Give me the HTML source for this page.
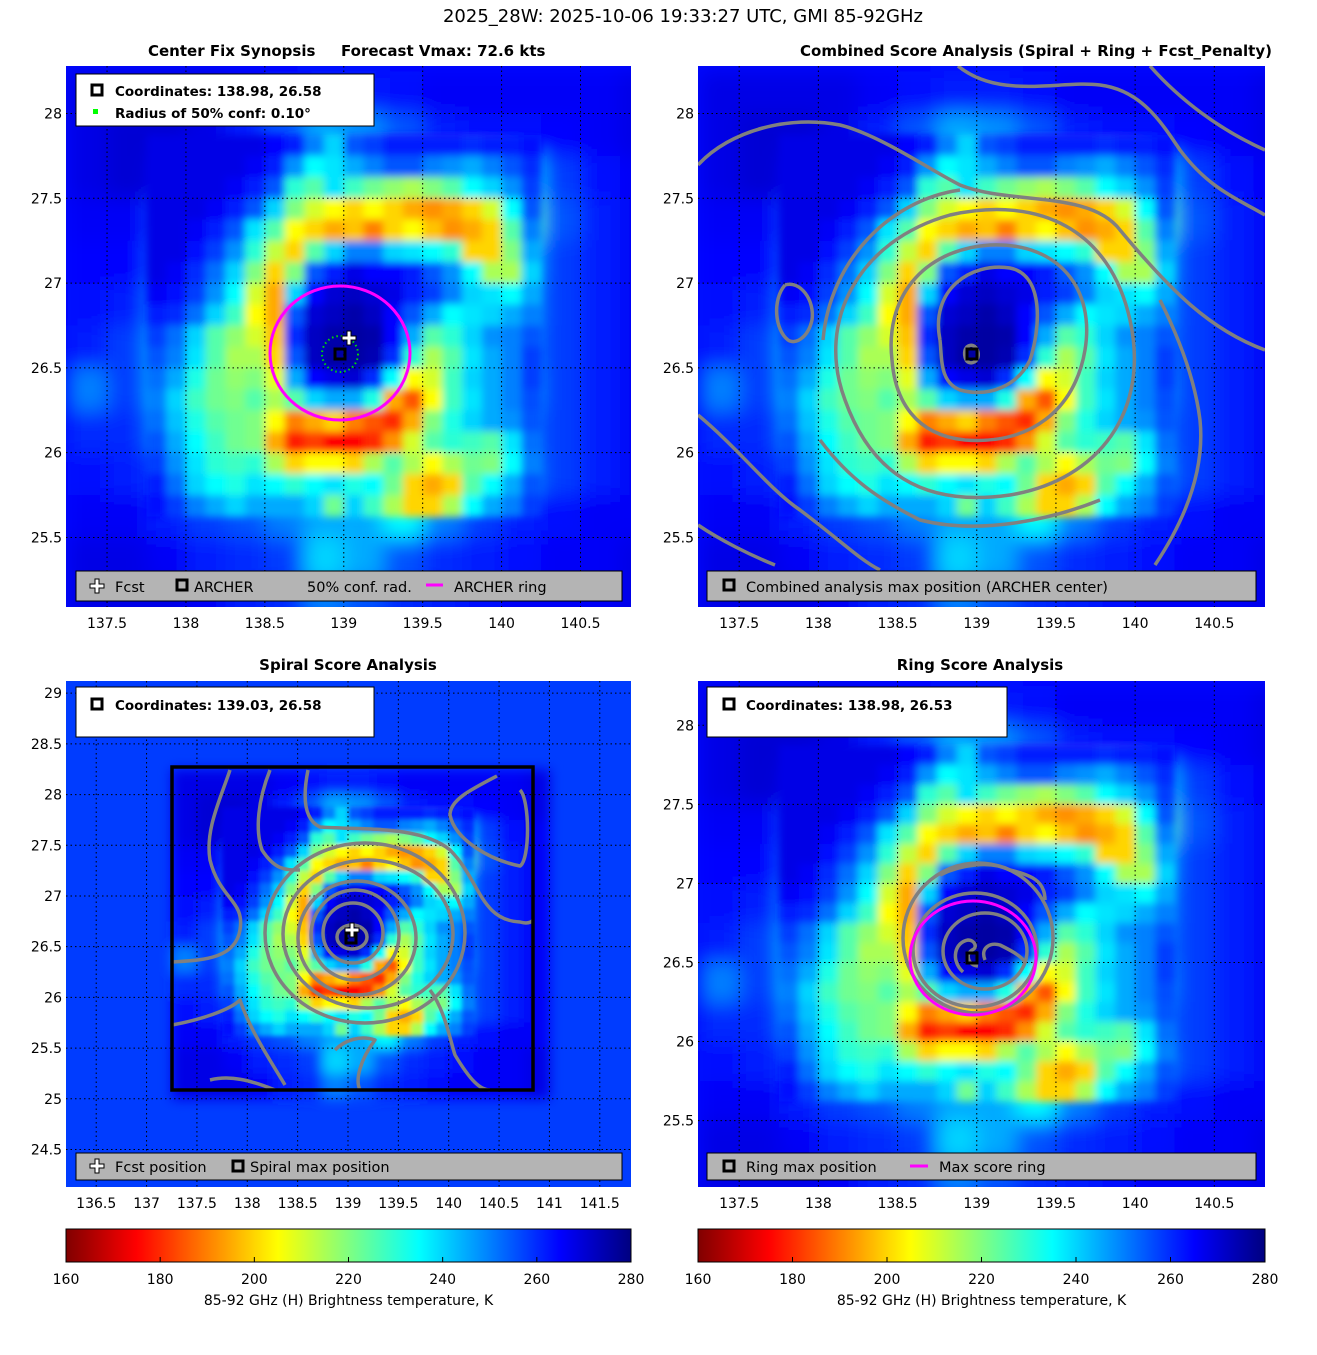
<!DOCTYPE html>
<html><head><meta charset="utf-8">
<style>
body{margin:0;background:#fff;width:1317px;height:1350px;overflow:hidden;font-family:"Liberation Sans","DejaVu Sans",sans-serif}
svg text{font-family:"DejaVu Sans","Liberation Sans",sans-serif}
</style></head>
<body>
<svg id="fig" width="1317" height="1350" xmlns="http://www.w3.org/2000/svg">
<defs>
<filter id="blurA" x="-5%" y="-5%" width="110%" height="110%"><feGaussianBlur stdDeviation="10"/></filter>
<filter id="blurB" x="-5%" y="-5%" width="110%" height="110%"><feGaussianBlur stdDeviation="6"/></filter>
<filter id="blurF" x="-10%" y="-10%" width="120%" height="120%"><feGaussianBlur stdDeviation="4"/></filter>
<filter id="blurF3" x="-10%" y="-10%" width="120%" height="120%"><feGaussianBlur stdDeviation="2.5"/></filter>
</defs>
<text x="683" y="22" text-anchor="middle" font-size="18">2025_28W: 2025-10-06 19:33:27 UTC, GMI 85-92GHz</text>
</svg>
<script>
// Coarse brightness temperature grid (K), 0.25 deg cells
const lons=[137.375,137.625,137.875,138.125,138.375,138.625,138.875,139.125,139.375,139.625,139.875,140.125,140.375,140.625,140.875];
const lats=[28.125,27.875,27.625,27.375,27.125,26.875,26.625,26.375,26.125,25.875,25.625,25.375,25.125];
const tb=[
[268,268,268,268,266,264,262,262,264,266,266,266,266,266,268],
[268,270,270,268,262,255,245,248,255,262,264,264,265,266,268],
[268,270,268,262,248,232,222,212,200,195,205,240,258,264,266],
[266,266,258,245,220,198,212,238,240,200,190,225,255,262,266],
[265,265,255,238,205,215,255,262,250,225,230,245,258,262,266],
[264,262,250,230,198,240,270,272,262,220,235,248,258,262,266],
[262,258,245,225,205,240,275,276,255,215,235,250,258,262,266],
[250,258,245,225,210,235,265,262,205,210,235,248,258,262,266],
[260,260,250,235,220,192,182,178,195,230,245,252,258,262,266],
[264,262,258,248,240,235,232,225,215,205,235,250,258,262,266],
[266,266,262,258,255,250,245,245,235,250,258,262,264,266,266],
[268,268,266,262,260,258,240,245,255,260,262,264,266,266,268],
[268,268,268,266,262,260,250,255,260,262,264,266,266,266,268]];
// Fine core grid (K), 0.125 deg cells
const fineLons=[137.8125,137.9375,138.0625,138.1875,138.3125,138.4375,138.5625,138.6875,138.8125,138.9375,139.0625,139.1875,139.3125,139.4375,139.5625,139.6875,139.8125,139.9375,140.0625,140.1875];
const fineLats=[27.8125,27.6875,27.5625,27.4375,27.3125,27.1875,27.0625,26.9375,26.8125,26.6875,26.5625,26.4375,26.3125,26.1875,26.0625,25.9375,25.8125,25.6875];
const fineTb=[
[268,268,268,268,268,268,265,262,250,240,255,258,262,262,262,262,260,262,262,264],
[268,268,268,268,268,266,262,248,235,238,245,250,255,255,250,248,245,250,255,260],
[268,268,268,268,266,262,255,230,225,238,228,222,218,215,220,225,235,240,248,258],
[268,268,268,266,262,255,240,220,210,205,200,205,200,195,192,195,200,210,235,255],
[268,268,266,262,255,238,225,205,200,195,198,190,200,205,198,192,195,200,225,250],
[268,268,264,258,248,230,212,200,225,240,250,250,240,238,235,230,200,200,220,245],
[268,266,260,252,240,220,200,220,255,262,268,265,265,262,255,248,235,215,215,240],
[266,264,258,248,235,210,195,240,265,270,272,270,268,262,258,250,240,238,235,245],
[262,260,252,240,228,205,195,255,270,272,275,272,265,255,245,235,238,240,245,250],
[258,252,240,225,218,210,198,260,272,275,276,275,265,245,225,230,240,248,250,255],
[255,250,238,225,215,215,200,255,272,276,276,274,260,230,215,225,238,245,250,258],
[252,245,232,222,218,220,208,245,265,268,270,260,235,205,210,228,240,245,250,258],
[250,240,228,222,220,225,215,225,240,245,245,232,195,185,205,228,238,245,250,256],
[252,242,232,225,222,220,205,190,195,200,190,185,180,195,220,232,240,245,248,255],
[255,245,235,228,222,220,195,178,182,175,175,180,192,210,225,230,228,225,238,252],
[258,248,238,230,228,230,215,200,205,205,200,215,225,215,205,215,222,220,235,250],
[262,252,240,235,232,238,235,230,235,238,232,235,222,200,195,200,225,235,245,255],
[264,258,250,245,240,245,245,245,240,222,240,228,215,200,200,215,235,245,250,258]];
const cbarTicks=[160,180,200,220,240,260,280];
const ticks1X=[137.5,138,138.5,139,139.5,140,140.5];
const ticks1Y=[25.5,26,26.5,27,27.5,28];
const ticks3X=[136.5,137,137.5,138,138.5,139,139.5,140,140.5,141,141.5];
const ticks3Y=[24.5,25,25.5,26,26.5,27,27.5,28,28.5,29];

const NS="http://www.w3.org/2000/svg";
const fig=document.getElementById('fig');
function mk(tag,attrs,parent){const e=document.createElementNS(NS,tag);for(const k in attrs)e.setAttribute(k,attrs[k]);(parent||fig).appendChild(e);return e;}
function jet(v){let t=(280-v)/120;t=Math.max(0,Math.min(1,t));const c=x=>Math.round(255*Math.max(0,Math.min(1,1.5-Math.abs(4*t-x))));return `rgb(${c(3)},${c(2)},${c(1)})`;}

const panels=[
 {id:'p1',x0:66,y0:66,x1:631,y1:607,lon0:137.24,lon1:140.82,lat0:28.28,lat1:25.09,tx:ticks1X,ty:ticks1Y,blur:'blurA',fb:'blurF',bg:264},
 {id:'p2',x0:698,y0:66,x1:1265,y1:607,lon0:137.24,lon1:140.82,lat0:28.28,lat1:25.09,tx:ticks1X,ty:ticks1Y,blur:'blurA',fb:'blurF',bg:264},
 {id:'p3',x0:66,y0:681,x1:631,y1:1187,lon0:136.2,lon1:141.81,lat0:29.12,lat1:24.13,tx:ticks3X,ty:ticks3Y,blur:'blurB',fb:'blurF3',bg:258},
 {id:'p4',x0:698,y0:681,x1:1265,y1:1187,lon0:137.24,lon1:140.82,lat0:28.28,lat1:25.08,tx:ticks1X,ty:ticks1Y,blur:'blurA',fb:'blurF',bg:264}];
function drawGrid(p,parent,LO,LA,V,half){
 V.forEach((row,i)=>row.forEach((v,j)=>{
   const x=p.sx(LO[j]-half),x2=p.sx(LO[j]+half),y=p.sy(LA[i]+half),y2=p.sy(LA[i]-half);
   const r=mk('rect',{x:x.toFixed(1),y:y.toFixed(1),width:(x2-x+0.6).toFixed(1),height:(y2-y+0.6).toFixed(1),fill:jet(v)},parent);
   
   
 }));
}
panels.forEach(p=>{
 p.sx=lon=>p.x0+(lon-p.lon0)/(p.lon1-p.lon0)*(p.x1-p.x0);
 p.sy=lat=>p.y0+(p.lat0-lat)/(p.lat0-p.lat1)*(p.y1-p.y0);
 const cp=mk('clipPath',{id:'clip'+p.id});mk('rect',{x:p.x0,y:p.y0,width:p.x1-p.x0,height:p.y1-p.y0},cp);
 const g=mk('g',{'clip-path':`url(#clip${p.id})`});
 
 
 mk('rect',{x:p.x0,y:p.y0,width:p.x1-p.x0,height:p.y1-p.y0,fill:jet(p.bg)},g);
 const hg=mk('g',{filter:`url(#${p.blur})`},g);
 
 
 drawGrid(p,hg,lons,lats,tb,0.125);
 const fg=mk('g',{filter:`url(#${p.fb})`},g);
 
 
 drawGrid(p,fg,fineLons,fineLats,fineTb,0.0625);
 p.tx.forEach(t=>mk('line',{x1:p.sx(t),x2:p.sx(t),y1:p.y0,y2:p.y1,stroke:'#000','stroke-width':1,'stroke-dasharray':'1.5 3'},g));
 p.ty.forEach(t=>mk('line',{y1:p.sy(t),y2:p.sy(t),x1:p.x0,x2:p.x1,stroke:'#000','stroke-width':1,'stroke-dasharray':'1.5 3'},g));
 p.g=g;
 p.tx.forEach(t=>{const e=mk('text',{x:p.sx(t),y:p.y1+21,'text-anchor':'middle','font-size':14});e.textContent=t;
  });
 p.ty.forEach(t=>{const e=mk('text',{x:p.x0-4,y:p.sy(t)+5,'text-anchor':'end','font-size':14});e.textContent=t;
  });
});
function txt(x,y,s,opts){const e=mk('text',Object.assign({x:x,y:y,'font-size':14.5},opts||{}));e.textContent=s;return e;}
let t;
t=txt(148,56,'Center Fix Synopsis',{'font-weight':'bold','font-size':15});
t=txt(341,56,'Forecast Vmax: 72.6 kts',{'font-weight':'bold','font-size':15});
t=txt(1036,56,'Combined Score Analysis (Spiral + Ring + Fcst_Penalty)',{'font-weight':'bold','font-size':15,'text-anchor':'middle'});
t=txt(348,670,'Spiral Score Analysis',{'font-weight':'bold','font-size':15,'text-anchor':'middle'});
t=txt(980,670,'Ring Score Analysis',{'font-weight':'bold','font-size':15,'text-anchor':'middle'});

const G='#808080';
function path(g,d,name){const e=mk('path',{d:d,fill:'none',stroke:G,'stroke-width':3.5,'stroke-linejoin':'round'},g);}
function ell(g,cx,cy,rx,ry,name){const e=mk('ellipse',{cx,cy,rx,ry,fill:'none',stroke:G,'stroke-width':3.5},g);}
function sq(g,x,y,name){const e=mk('rect',{x:x-5,y:y-5,width:10,height:10,fill:'none',stroke:'#000','stroke-width':3},g);}
function cross(g,x,y,name){const e=mk('path',{d:`M${x-2} ${y-7}h4v5h5v4h-5v5h-4v-5h-5v-4h5z`,fill:'#fff',stroke:'#000','stroke-width':1},g);}

const g1=panels[0].g;
let e=mk('ellipse',{cx:340,cy:353,rx:70,ry:67,fill:'none',stroke:'#ff00ff','stroke-width':3},g1);
e=mk('circle',{cx:340,cy:354,r:18,fill:'none',stroke:'#00dd00','stroke-width':2,'stroke-dasharray':'1.5 3'},g1);
sq(g1,340,354,'archer-center');cross(g1,349,338,'fcst-marker');

const g2=panels[1].g;
path(g2,'M966 360 C960 345 975 340 978 352 C980 362 970 366 966 360','contour');
path(g2,'M940 340 C930 290 970 262 1010 268 C1045 275 1040 330 1030 360 C1018 385 990 398 960 390 C940 382 942 360 940 340','contour');
path(g2,'M892 360 C885 300 920 250 990 245 C1060 242 1095 290 1085 350 C1075 410 1030 445 965 440 C915 435 895 400 892 360','contour');
path(g2,'M845 400 C815 320 860 240 950 215 C1040 195 1110 230 1130 320 C1150 410 1100 480 1010 495 C920 508 870 470 845 400','contour');
path(g2,'M823 340 C830 260 890 200 960 190','contour');
path(g2,'M698 165 C730 130 790 115 840 125 C880 135 930 170 960 185 C1010 205 1090 190 1120 230 C1170 290 1210 330 1265 350','contour');
path(g2,'M958 66 C1000 100 1060 80 1100 85 C1140 90 1160 120 1180 150 C1210 190 1240 200 1265 215','contour');
path(g2,'M1150 66 C1180 100 1220 130 1265 150','contour');
path(g2,'M698 415 C740 450 770 490 800 510 C840 540 860 560 880 570','contour');
path(g2,'M698 525 C720 540 750 555 775 565','contour');
path(g2,'M1155 565 C1185 520 1205 470 1200 420 C1195 380 1180 340 1160 300','contour');
path(g2,'M785 285 C800 280 815 300 812 320 C808 338 795 345 788 340 C775 330 772 300 785 285','contour');
path(g2,'M820 440 C850 480 880 500 920 520 C980 535 1050 520 1100 500','contour');
sq(g2,972,354,'archer-center');

const g3=panels[2].g;
[[352,937,15,12],[353,933,30,30],[355,935,44,45],[357,938,59,57],[368,934,85,74],[365,933,100,90]].forEach(c=>ell(g3,c[0],c[1],c[2],c[3],'spiral-contour'));
path(g3,'M230 770 C220 800 205 830 210 860 C220 900 245 900 240 930 C235 960 200 960 172 962','spiral-contour');
path(g3,'M270 770 C258 800 255 830 262 850 C275 870 285 870 300 870','spiral-contour');
path(g3,'M308 770 C302 800 305 820 320 827 C360 830 420 825 450 850 C480 880 480 920 520 922 C530 925 533 920 533 920','spiral-contour');
path(g3,'M497 776 C470 790 450 800 450 815 C455 840 490 860 520 866 C530 860 530 800 520 790','spiral-contour');
path(g3,'M172 1025 C200 1020 230 1010 240 1000 C250 1030 270 1060 285 1085','spiral-contour');
path(g3,'M430 990 C445 1010 450 1040 455 1055 C470 1080 480 1090 490 1090','spiral-contour');
path(g3,'M210 1080 C230 1075 250 1080 275 1090','spiral-contour');
path(g3,'M335 1050 C345 1040 360 1035 375 1040 C360 1060 355 1080 360 1090','spiral-contour');
e=mk('rect',{x:172,y:767,width:361,height:323,fill:'none',stroke:'#000','stroke-width':3.5},g3);
sq(g3,351,938,'spiral-max');cross(g3,352,930,'fcst-marker');

const g4=panels[3].g;
path(g4,'M963 972 C950 960 955 942 968 940 C975 940 978 948 972 950 C965 955 968 965 978 966','ring-contour');
path(g4,'M985 960 C980 948 990 942 1000 945 C1010 950 1020 955 1025 962','ring-contour');
[[985,951,42,38],[975,950,62,57],[978,938,75,75]].forEach(c=>ell(g4,c[0],c[1],c[2],c[3],'ring-contour'));
path(g4,'M940 875 C960 865 990 860 1010 870 C1030 875 1045 880 1045 900','ring-contour');
e=mk('ellipse',{cx:973,cy:958,rx:63,ry:57,fill:'none',stroke:'#ff00ff','stroke-width':3},g4);
sq(g4,972,958,'ring-max');

function box(x,y,w,h,fill,name){const r=mk('rect',{x,y,width:w,height:h,fill,stroke:'#000','stroke-width':1});}
const B={'font-weight':'bold','font-size':13.5};
box(76,74,298,52,'#fff','coord-box-1');
sq(fig,97,90,'legend-icon');txt(115,96,'Coordinates: 138.98, 26.58',B);
mk('rect',{x:93,y:109,width:5,height:5,fill:'#00ff00'});txt(115,118,'Radius of 50% conf: 0.10°',B);
box(76,571,546,30,'#b4b4b4','legend-1');
cross(fig,97,586,'legend-icon');txt(115,592,'Fcst');sq(fig,182,585,'legend-icon');txt(194,592,'ARCHER');txt(307,592,'50% conf. rad.');
mk('line',{x1:426,x2:443,y1:585,y2:585,stroke:'#ff00ff','stroke-width':3});txt(454,592,'ARCHER ring');
box(707,571,549,30,'#b4b4b4','legend-2');sq(fig,729,585,'legend-icon');txt(746,592,'Combined analysis max position (ARCHER center)');
box(76,687,298,50,'#fff','coord-box-3');sq(fig,97,704,'legend-icon');txt(115,710,'Coordinates: 139.03, 26.58',B);
box(76,1153,546,27,'#b4b4b4','legend-3');cross(fig,97,1166,'legend-icon');txt(115,1172,'Fcst position');sq(fig,238,1166,'legend-icon');txt(250,1172,'Spiral max position');
box(707,687,300,50,'#fff','coord-box-4');sq(fig,729,704,'legend-icon');txt(746,710,'Coordinates: 138.98, 26.53',B);
box(707,1153,549,27,'#b4b4b4','legend-4');sq(fig,729,1166,'legend-icon');txt(746,1172,'Ring max position');
mk('line',{x1:910,x2:928,y1:1166,y2:1166,stroke:'#ff00ff','stroke-width':3});txt(939,1172,'Max score ring');

const defs=fig.querySelector('defs');
const lg=mk('linearGradient',{id:'cbg',x1:0,x2:1,y1:0,y2:0},defs);
for(let v=160;v<=280;v+=5)mk('stop',{offset:((v-160)/120).toFixed(3),'stop-color':jet(v)},lg);
[[66,631],[698,1265]].forEach(([a,b],k)=>{
 const r=mk('rect',{x:a,y:1229,width:b-a,height:33,fill:'url(#cbg)',stroke:'#000','stroke-width':1});
 
 cbarTicks.forEach(v=>{const x=a+(v-160)/120*(b-a);
  mk('line',{x1:x,x2:x,y1:1257,y2:1262,stroke:'#000'});
  const e=txt(x,1284,v,{'text-anchor':'middle','font-size':14});});
 const l=txt((a+b)/2,1305,'85-92 GHz (H) Brightness temperature, K',{'text-anchor':'middle','font-size':14});
 
});
</script>
</body></html>
